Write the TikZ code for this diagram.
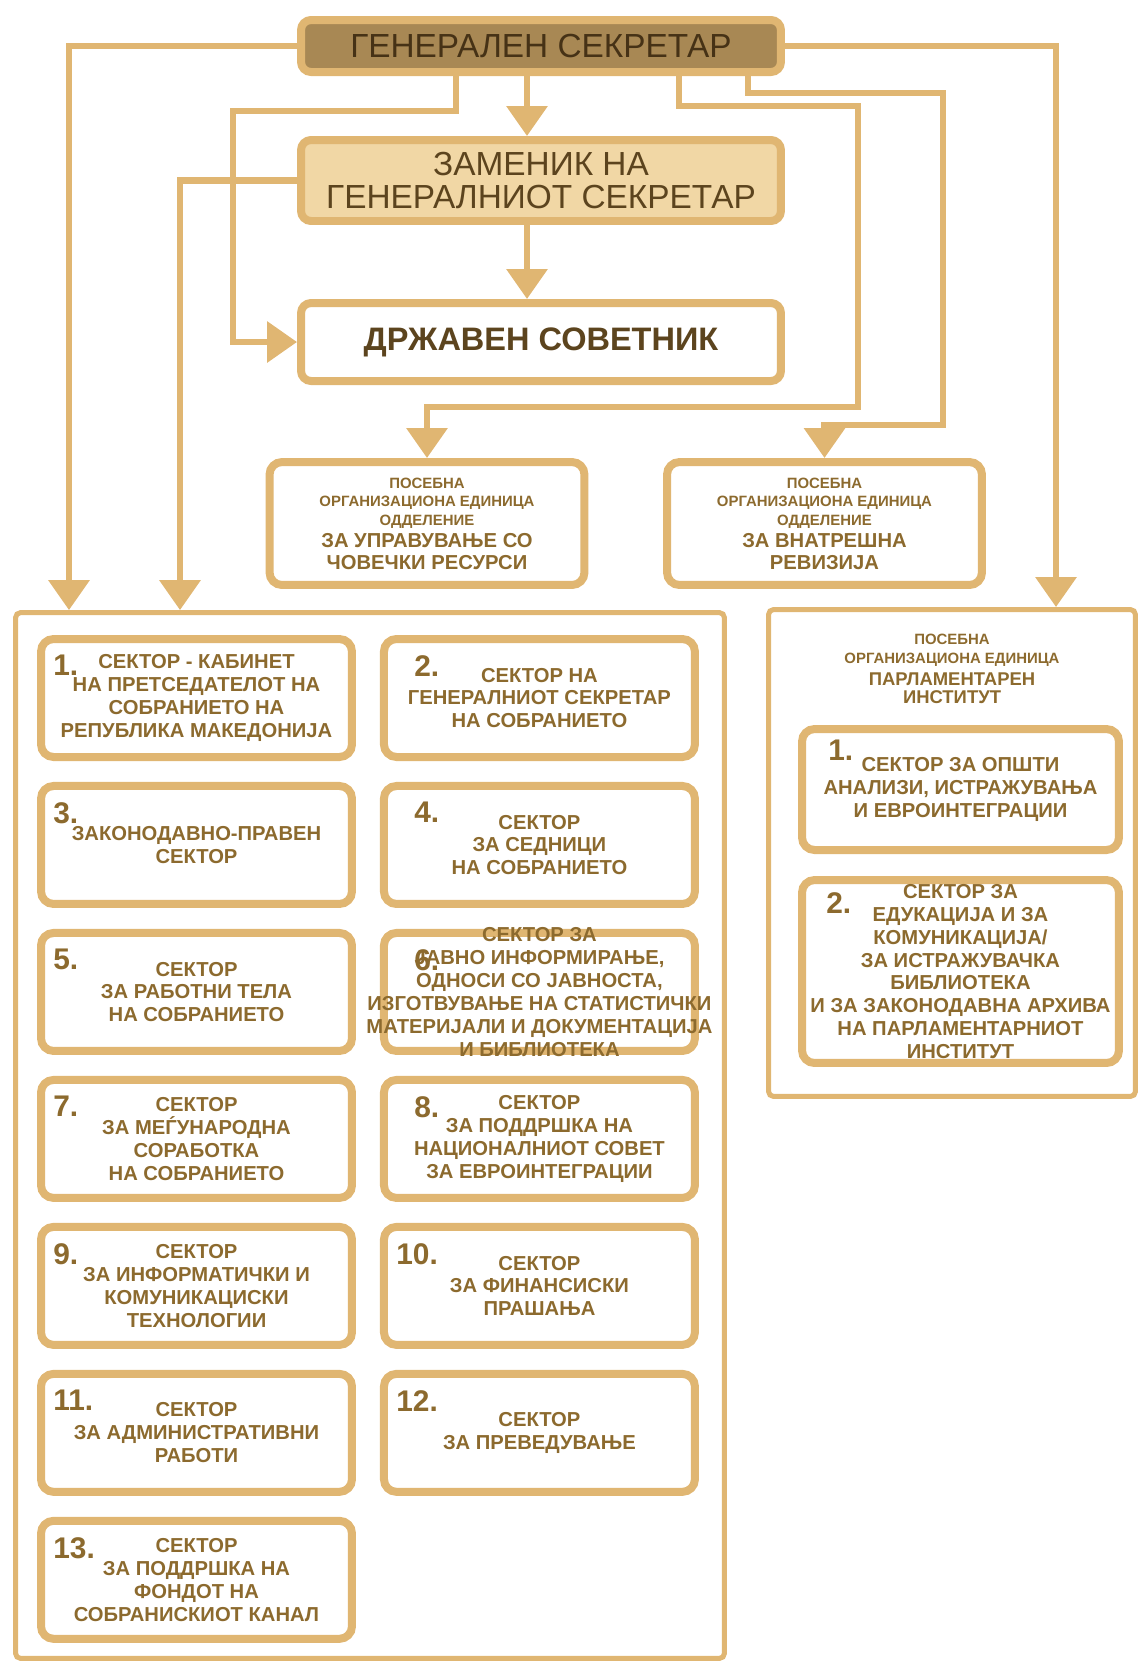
\documentclass[tikz,border=0pt]{standalone}
\usepackage{fontspec}
\setmainfont{Liberation Sans}
\usepackage{xcolor}
\usetikzlibrary{arrows.meta,positioning,calc}

\definecolor{rim}{RGB}{224,182,114}
\definecolor{ink}{RGB}{140,106,46}
\definecolor{gsfill}{RGB}{168,136,84}
\definecolor{gsink}{RGB}{70,50,22}
\definecolor{depfill}{RGB}{241,215,165}
\definecolor{depink}{RGB}{92,68,30}
\newcommand{\unitbig}{\fontsize{11.5}{13}\selectfont}

\begin{document}
\begin{tikzpicture}[
  x=0.02cm, y=-0.02cm,
  node distance=0.42cm and 0.48cm,
  head/.style={rectangle, draw=rim, line width=0.16cm, rounded corners=0.2cm,
               minimum width=9.6cm, inner sep=0pt, align=center},
  sector/.style={rectangle, draw=rim, line width=0.16cm, rounded corners=0.25cm,
                 fill=white, minimum width=6.22cm, minimum height=2.36cm,
                 inner sep=0pt, align=center, text=ink,
                 font=\fontsize{11.5}{13}\selectfont\bfseries},
  unit/.style={sector, minimum width=6.3cm, minimum height=2.46cm,
               font=\fontsize{8.5}{10.5}\selectfont\bfseries},
  textonly/.style={inner sep=0pt, align=center, text=ink,
                   font=\fontsize{11.5}{13}\selectfont\bfseries},
  frame/.style={rectangle, draw=rim, line width=0.1cm, rounded corners=0.1cm},
  num/.style={anchor=north west, inner sep=0pt, text=ink,
              font=\fontsize{17}{17}\selectfont\bfseries},
  link/.style={draw=rim, line width=0.13cm},
  arr/.style={link, -{Triangle[width=0.8cm,length=0.6cm]}}
]
  \useasboundingbox (0,0) rectangle (1141,1664);

  % top of the chart
  \node[head, fill=gsfill, text=gsink, minimum height=1.04cm,
        font=\fontsize{19}{20}\selectfont] (gs) at (541,46) {ГЕНЕРАЛЕН СЕКРЕТАР};
  \node[head, fill=depfill, text=depink, minimum height=1.62cm,
        font=\fontsize{19}{19}\selectfont] (dep) at (541,180.5) {ЗАМЕНИК НА\\ГЕНЕРАЛНИОТ СЕКРЕТАР};
  \node[head, fill=white, text=depink, minimum height=1.56cm,
        font=\fontsize{18.5}{20}\selectfont\bfseries] (ds) at (541,342) {ДРЖАВЕН СОВЕТНИК};

  \node[unit] (hr) at (427,523.5) {ПОСЕБНА\\ОРГАНИЗАЦИОНА ЕДИНИЦА\\ОДДЕЛЕНИЕ\\[2pt]{\unitbig ЗА УПРАВУВАЊЕ СО}\\[2pt]{\unitbig ЧОВЕЧКИ РЕСУРСИ}};
  \node[unit] (au) at (824.5,523.5) {ПОСЕБНА\\ОРГАНИЗАЦИОНА ЕДИНИЦА\\ОДДЕЛЕНИЕ\\[2pt]{\unitbig ЗА ВНАТРЕШНА}\\[2pt]{\unitbig РЕВИЗИЈА}};

  % the two large frames
  \node[frame, minimum width=14.18cm, minimum height=20.92cm] (lbox) at (370,1135.5) {};
  \node[frame, minimum width=7.34cm, minimum height=9.74cm] (pbox) at (952,853) {};

  % sectors
  \node[sector] (s1) at (196.5,698) {СЕКТОР - КАБИНЕТ\\НА ПРЕТСЕДАТЕЛОТ НА\\СОБРАНИЕТО НА\\РЕПУБЛИКА МАКЕДОНИЈА};
  \node[sector, right=of s1] (s2) {СЕКТОР НА\\ГЕНЕРАЛНИОТ СЕКРЕТАР\\НА СОБРАНИЕТО};
  \node[sector, below=of s1] (s3) {ЗАКОНОДАВНО-ПРАВЕН\\СЕКТОР};
  \node[sector, below=of s2] (s4) {СЕКТОР\\ЗА СЕДНИЦИ\\НА СОБРАНИЕТО};
  \node[sector, below=of s3] (s5) {СЕКТОР\\ЗА РАБОТНИ ТЕЛА\\НА СОБРАНИЕТО};
  \node[sector, below=of s4] (s6) {};
  \node[sector, below=of s5] (s7) {СЕКТОР\\ЗА МЕЃУНАРОДНА\\СОРАБОТКА\\НА СОБРАНИЕТО};
  \node[sector, below=of s6] (s8) {СЕКТОР\\ЗА ПОДДРШКА НА\\НАЦИОНАЛНИОТ СОВЕТ\\ЗА ЕВРОИНТЕГРАЦИИ};
  \node[sector, below=of s7] (s9) {СЕКТОР\\ЗА ИНФОРМАТИЧКИ И\\КОМУНИКАЦИСКИ\\ТЕХНОЛОГИИ};
  \node[sector, below=of s8] (s10) {СЕКТОР\\ЗА ФИНАНСИСКИ\\ПРАШАЊА};
  \node[sector, below=of s9] (s11) {СЕКТОР\\ЗА АДМИНИСТРАТИВНИ\\РАБОТИ};
  \node[sector, below=of s10] (s12) {СЕКТОР\\ЗА ПРЕВЕДУВАЊЕ};
  \node[sector, below=of s11] (s13) {СЕКТОР\\ЗА ПОДДРШКА НА\\ФОНДОТ НА\\СОБРАНИСКИОТ КАНАЛ};
  \node[textonly] (t6) at (s6) {СЕКТОР ЗА\\ЈАВНО ИНФОРМИРАЊЕ,\\ОДНОСИ СО ЈАВНОСТА,\\ИЗГОТВУВАЊЕ НА СТАТИСТИЧКИ\\МАТЕРИЈАЛИ И ДОКУМЕНТАЦИЈА\\И БИБЛИОТЕКА};

  \foreach \k/\dx in {1/0.32,2/0.68,3/0.32,4/0.68,5/0.32,6/0.68,7/0.32,
                      8/0.68,9/0.32,10/0.32,11/0.32,12/0.32,13/0.32}
    \node[num] (n\k) at ([xshift=\dx cm,yshift=-0.4cm]s\k.north west) {\k.};

  % parliamentary institute
  \node[textonly, font=\fontsize{8.5}{10.5}\selectfont\bfseries] (pihead) at (952,669)
    {ПОСЕБНА\\ОРГАНИЗАЦИОНА ЕДИНИЦА\\[2pt]{\fontsize{10.5}{12}\selectfont ПАРЛАМЕНТАРЕН}\\{\fontsize{10.5}{12}\selectfont ИНСТИТУТ}};
  \node[sector, minimum width=6.34cm, minimum height=2.42cm] (p1) at (960.5,789.5)
    {СЕКТОР ЗА ОПШТИ\\АНАЛИЗИ, ИСТРАЖУВАЊА\\И ЕВРОИНТЕГРАЦИИ};
  \node[sector, minimum width=6.34cm, minimum height=3.66cm] (p2) at (960.5,971.5) {};
  \node[textonly] (tp2) at (p2) {СЕКТОР ЗА\\ЕДУКАЦИЈА И ЗА\\КОМУНИКАЦИЈА/\\ЗА ИСТРАЖУВАЧКА\\БИБЛИОТЕКА\\И ЗА ЗАКОНОДАВНА АРХИВА\\НА ПАРЛАМЕНТАРНИОТ\\ИНСТИТУТ};
  \node[num] (m1) at ([xshift=0.6cm,yshift=-0.3cm]p1.north west) {1.};
  \node[num] (m2) at ([xshift=0.56cm,yshift=-0.32cm]p2.north west) {2.};

  % connectors
  \coordinate (k0) at (527,0);
  \coordinate (kl) at (69,0);
  \coordinate (kd) at (180,0);
  \coordinate (ka) at (456,111);
  \coordinate (kb) at (233,111);
  \coordinate (kc) at (679,106);
  \coordinate (ke) at (858,407);
  \coordinate (kf) at (748,93);
  \coordinate (kg) at (943,425);
  \coordinate (kr) at (1056,0);

  \draw[arr] (gs.west) -| (kl |- lbox.north);
  \draw[arr] (dep.west) -| (kd |- lbox.north);
  \draw[arr] (gs.south -| k0) -- (dep.north -| k0);
  \draw[arr] (dep.south -| k0) -- (ds.north -| k0);
  \draw[arr] (gs.south -| ka) -- (ka) -- (kb) |- (ds.west);
  \draw[arr] (gs.south -| kc) -- (kc) -| (ke) -| (hr.north);
  \draw[arr] (gs.south -| kf) -- (kf) -| (kg) -| (au.north);
  \draw[arr] (gs.east) -| (kr |- pbox.north);
\end{tikzpicture}
\end{document}
